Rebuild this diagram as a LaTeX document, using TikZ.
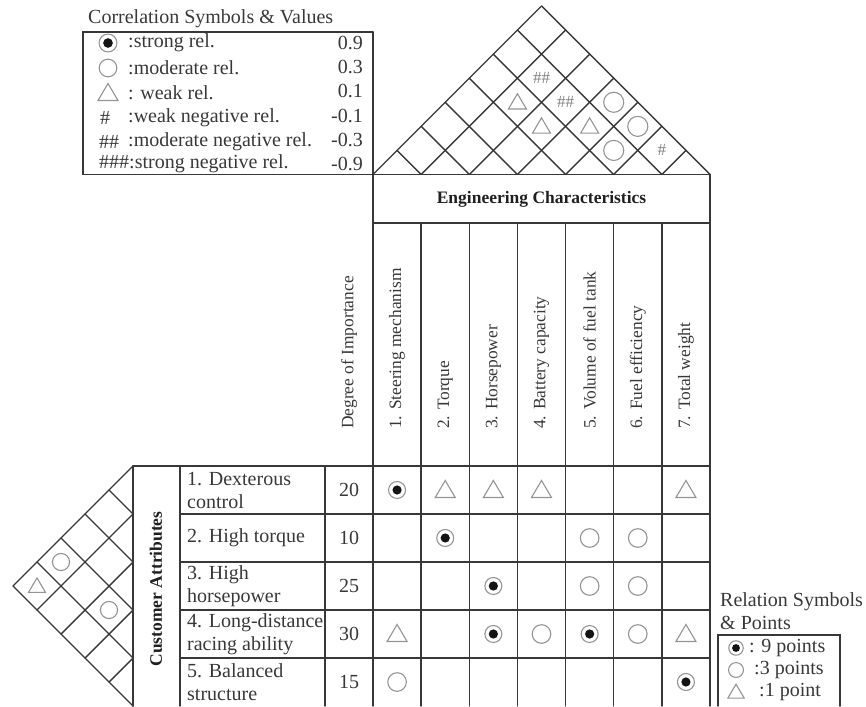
\documentclass[tikz,border=0pt]{standalone}
\usepackage{fontspec}
\setmainfont{Liberation Serif}
\begin{document}
\begin{tikzpicture}[x=1pt,y=-1pt,
  grid/.style={draw=black!78, line width=1.4pt, line cap=round},
  sym/.style={draw=black!42, line width=1.1pt},
  txt/.style={text=black!78, inner sep=0pt, font=\fontsize{20}{23}\selectfont},
  vtxt/.style={text=black!78, inner sep=0pt, font=\fontsize{17.4}{20}\selectfont, rotate=90, anchor=west},
  btxt/.style={text=black!88, inner sep=0pt, font=\fontsize{17.5}{20}\selectfont\bfseries},
  hashtxt/.style={text=black!50, inner sep=0pt, font=\fontsize{17}{18}\selectfont},
  strongrel/.pic={\fill[black!92] (0,0) circle[radius=4.6pt*#1];
                  \draw[sym] (0,0) circle[radius=8.5pt*#1];},
  modrel/.pic={\draw[sym] (0,0) circle[radius=9.3pt*#1];},
  weakrel/.pic={\draw[sym, line join=miter] (-10*#1,7.5*#1) -- (10*#1,7.5*#1) -- (0,-9.5*#1) -- cycle;}
]
\useasboundingbox (0,0) rectangle (866,706);
\pgfmathsetmacro\w{337/7}
\pgfmathsetmacro\h{48}

% ---------- correlation legend ----------
\node[txt, anchor=west] (corrtitle) at (88,19) {Correlation Symbols \& Values};
\draw[grid] (373,174.5) -- (83,174.5) -- (83,32) -- (373,32);
\pic at (108,43) {strongrel=1.05};
\pic at (108,68) {modrel=0.95};
\pic at (108,93) {weakrel=1};
\node[txt, anchor=west] (l1) at (128,43) {:strong rel.};
\node[txt, anchor=west] (l2) at (128,68) {:moderate rel.};
\node[txt, anchor=west] (l3) at (128,93) {: weak rel.};
\node[txt, anchor=west] (l4s) at (100,118) {\#};
\node[txt, anchor=west] (l4) at (128,118) {:weak negative rel.};
\node[txt, anchor=west] (l5s) at (99,142) {\#\#};
\node[txt, anchor=west] (l5) at (128,142) {:moderate negative rel.};
\node[txt, anchor=west] (l6) at (99,164) {\#\#\#:strong negative rel.};
\foreach \v [count=\n from 0] in {0.9,0.3,0.1,-0.1,-0.3,-0.9}
  \node[txt, anchor=east] (val\n) at (363,{43+24.2*\n}) {\v};

% ---------- roof ----------
\foreach \k in {0,...,7}{
  \draw[grid] ({373+\k*\w},174.5) -- ++({(7-\k)*\w/2},{-(7-\k)*\w/2});
  \draw[grid] ({373+\k*\w},174.5) -- ++({-\k*\w/2},{-\k*\w/2});
}
\foreach \i/\j in {4/7,5/7,5/6}
  \pic at ({373+(\i+\j-1)/2*\w},{174.5-(\j-\i)/2*\w}) {modrel=1.08};
\foreach \i/\j in {2/5,3/5,4/6}
  \pic at ({373+(\i+\j-1)/2*\w},{174.5-(\j-\i)/2*\w}) {weakrel=0.9};
\foreach \i/\j/\s in {2/6/\#\#,3/6/\#\#,6/7/\#}
  \node[hashtxt] (r\i\j) at ({373+(\i+\j-1)/2*\w},{174.5-(\j-\i)/2*\w}) {\s};

% ---------- engineering characteristics ----------
\draw[grid] (373,32) -- (373,706);
\draw[grid] (373,174.5) -- (710,174.5) -- (710,706);
\draw[grid] (373,223) -- (710,223);
\node[btxt] (ec) at (541.5,199) {Engineering Characteristics};
\foreach \k in {1,...,6}
  \draw[grid] ({373+\k*\w},223) -- ({373+\k*\w},706);
\foreach \t [count=\c] in {1. Steering mechanism,2. Torque,3. Horsepower,4. Battery capacity,5. Volume of fuel tank,6. Fuel efficiency,7. Total weight}
  \node[vtxt] (e\c) at ({373+(\c-0.5)*\w},429) {\t};
\node[vtxt] (doi) at (349,429) {Degree of Importance};

% ---------- customer attributes ----------
\draw[grid] (133,466) -- (710,466);
\draw[grid] (133,466) -- (133,706);
\draw[grid] (180,466) -- (180,706);
\draw[grid] (325,466) -- (325,706);
\foreach \k in {1,...,4}
  \draw[grid] (180,{466+\k*\h}) -- (710,{466+\k*\h});
\node[btxt, rotate=90] (ca) at (156,589) {Customer Attributes};
\foreach \t/\d [count=\r] in {{1. Dexterous\\control}/20,{2. High torque}/10,{3. High\\horsepower}/25,{4. Long-distance\\racing ability}/30,{5. Balanced\\structure}/15}{
  \node[txt, anchor=west, align=left] (c\r) at (187,{466+(\r-0.5)*\h}) {\t};
  \node[txt] (d\r) at (349,{466+(\r-0.5)*\h}) {\d};
}

% ---------- left correlation triangle ----------
\foreach \k in {0,...,5}{
  \draw[grid] (133,{466+\k*\h}) -- ++({-\k*\h/2},{-\k*\h/2});
  \draw[grid] (133,{466+\k*\h}) -- ++({-(5-\k)*\h/2},{(5-\k)*\h/2});
}
\foreach \i/\j in {1/4,3/4}
  \pic at ({133-(\j-\i)/2*\h},{466+(\i+\j-1)/2*\h}) {modrel=0.92};
\pic at ({133-(5-1)/2*\h},{466+(1+5-1)/2*\h}) {weakrel=0.85};

% ---------- relation matrix ----------
\foreach \r/\c in {1/1,2/2,3/3,4/3,4/5,5/7}
  \pic at ({373+(\c-0.5)*\w},{466+(\r-0.5)*\h}) {strongrel=1};
\foreach \r/\c in {2/5,2/6,3/5,3/6,4/4,4/6,5/1}
  \pic at ({373+(\c-0.5)*\w},{466+(\r-0.5)*\h}) {modrel=1};
\foreach \r/\c in {1/2,1/3,1/4,1/7,4/1,4/7}
  \pic at ({373+(\c-0.5)*\w},{466+(\r-0.5)*\h}) {weakrel=1};

% ---------- relation legend ----------
\node[txt, anchor=west] (reltitle) at (720,602) {Relation Symbols};
\node[txt, anchor=west] (relsub) at (720,623) {\& Points};
\draw[grid] (718,706) -- (718,635) -- (840,635) -- (840,706);
\pic at (736,648) {strongrel=0.85};
\pic at (736,670) {modrel=0.8};
\pic at (736,692) {weakrel=0.82};
\node[txt, anchor=west] (p9) at (749,648) {: 9 points};
\node[txt, anchor=west] (p3) at (754,670) {:3 points};
\node[txt, anchor=west] (p1) at (759,692) {:1 point};
\end{tikzpicture}
\end{document}
